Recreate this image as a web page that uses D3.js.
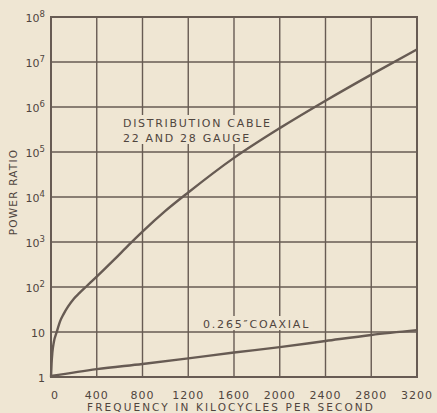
<!DOCTYPE html>
<html><head><meta charset="utf-8">
<script src="https://cdn.jsdelivr.net/npm/d3@7"></script>
<style>
html,body{margin:0;padding:0;background:#efe6d3;}
svg{display:block;}
text{font-family:"DejaVu Sans",sans-serif;fill:#4f453e;}
</style></head><body>
<svg id="c" width="437" height="413"></svg>
<script>
const xTicks = [0,400,800,1200,1600,2000,2400,2800,3200];
const yExponents = [0,1,2,3,4,5,6,7,8];
const cableFreq  = [0,5,12,25,50,80,110,150,200,250,304,400,550,678,800,1000,1200,1600,2000,2400,2800,3200];
const cableRatio = [1,2,3.5,6,10,17.4,25,37,55,74,100,170,400,850,1700,4900,12600,74000,339000,1380000,5250000,19000000];
const coaxFreq   = [0,400,800,1200,1600,2000,2400,2800,3200];
const coaxRatio  = [1.05,1.5,1.95,2.6,3.5,4.6,6.3,8.6,11];
const xTitle = "FREQUENCY IN KILOCYCLES PER SECOND";
const yTitle = "POWER RATIO";
const cableLabel = ["DISTRIBUTION CABLE","22 AND 28 GAUGE"];
const coaxLabel = "0.265\u2033COAXIAL";

const ink = "#675b53";
const bg = "#efe6d3";
const svg = d3.select("#c");
const x = d3.scaleLinear().domain([0,3200]).range([51,417]);
const y = d3.scaleLog().domain([1,1e8]).range([377,17]);

// grid
const g = svg.append("g").attr("stroke",ink).attr("stroke-width",1.4).attr("fill","none");
g.selectAll("line.v").data(xTicks).join("line")
  .attr("x1",d=>x(d)).attr("x2",d=>x(d)).attr("y1",y(1e8)).attr("y2",y(1));
g.selectAll("line.h").data(yExponents).join("line")
  .attr("y1",d=>y(Math.pow(10,d))).attr("y2",d=>y(Math.pow(10,d))).attr("x1",x(0)).attr("x2",x(3200));
g.append("rect").attr("x",x(0)).attr("y",y(1e8)).attr("width",x(3200)-x(0)).attr("height",y(1)-y(1e8)).attr("stroke-width",2);

const line = d3.line().x(d=>x(d[0])).y(d=>y(d[1])).curve(d3.curveMonotoneX);

// lettering boxes that blank the grid
function labelBox(lines, x0, y0, dy, ls){
  const grp = svg.append("g");
  lines.forEach((s,i)=>grp.append("text").attr("x",x0).attr("y",y0+i*dy)
     .style("font-size","11px").style("letter-spacing",ls+"px").text(s));
  const bb = grp.node().getBBox();
  grp.insert("rect","text").attr("x",bb.x-3).attr("y",bb.y-2).attr("width",bb.width+6).attr("height",bb.height+1).attr("fill",bg);
  return grp;
}
labelBox(cableLabel,123,127,15,1.7);
labelBox([coaxLabel],203,328,15,1.8);

svg.append("path").datum(cableFreq.map((f,i)=>[f,cableRatio[i]]))
  .attr("d",line).attr("fill","none").attr("stroke",ink).attr("stroke-width",2.4);
svg.append("path").datum(coaxFreq.map((f,i)=>[f,coaxRatio[i]]))
  .attr("d",line).attr("fill","none").attr("stroke",ink).attr("stroke-width",2.4);

// x tick labels
svg.selectAll("text.xt").data(xTicks).join("text")
  .attr("x",d=>x(d)+(d===0?4:0)).attr("y",399).attr("text-anchor","middle")
  .style("font-size","11px").style("letter-spacing","1px").text(d=>d);
svg.append("text").attr("x",231).attr("y",411).attr("text-anchor","middle")
  .style("font-size","10.5px").style("letter-spacing","2.1px").text(xTitle);

// y tick labels
yExponents.forEach(e=>{
  const t = svg.append("text").attr("x",45).attr("y",y(Math.pow(10,e))+5).attr("text-anchor","end").style("font-size","11px");
  if(e===0){ t.text("1"); }
  else if(e===1){ t.text("10"); }
  else {
    t.append("tspan").text("10");
    t.append("tspan").attr("dy",-5).style("font-size","8.5px").text(e);
  }
});
svg.append("text").attr("transform","translate(17,192) rotate(-90)").attr("text-anchor","middle")
  .style("font-size","10.5px").style("letter-spacing","1.2px").text(yTitle);
</script></body></html>
